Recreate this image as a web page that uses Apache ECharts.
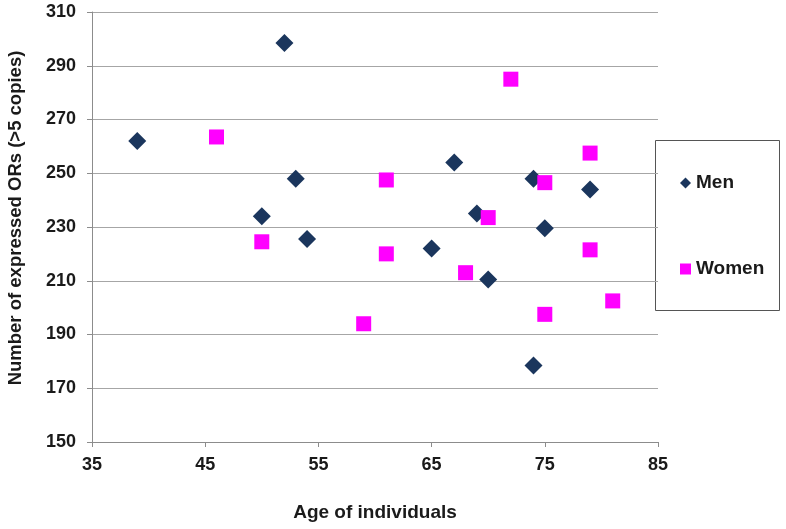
<!DOCTYPE html>
<html>
<head>
<meta charset="utf-8">
<script src="https://cdn.jsdelivr.net/npm/echarts@6/dist/echarts.min.js"></script>
<style>
html,body{margin:0;padding:0;background:#fff;}
#chart{width:786px;height:529px;}
</style>
</head>
<body>
<div id="chart"></div>
<script>
const menAge = [39, 50, 52, 53, 54, 65, 67, 69, 70, 74, 74, 75, 79];
const menORs = [262, 234, 298.5, 248, 225.5, 222, 254, 235, 210.5, 248, 178.5, 229.5, 244];
const womenAge = [46, 50, 59, 61, 61, 68, 70, 72, 75, 75, 79, 79, 81];
const womenORs = [263.5, 224.5, 194, 247.5, 220, 213, 233.5, 285, 246.5, 197.5, 257.5, 221.5, 202.5];
const seriesNames = ['Men', 'Women'];
const xTitle = 'Age of individuals';
const yTitle = 'Number of expressed ORs (>5 copies)';

const zip = (a, b) => a.map((v, i) => [v, b[i]]);
const font = '"Liberation Sans", Arial, sans-serif';

const chart = echarts.init(document.getElementById('chart'));
chart.setOption({
  animation: false,
  backgroundColor: '#ffffff',
  grid: { left: 92, right: 128, top: 12, bottom: 87, containLabel: false, outerBoundsMode: 'none' },
  xAxis: {
    type: 'value', min: 35, max: 85, interval: 10,
    name: xTitle, nameLocation: 'middle', nameGap: 61,
    nameTextStyle: { fontFamily: font, fontWeight: 'bold', fontSize: 19, color: '#1a1a1a' },
    axisLine: { show: true, lineStyle: { color: '#8c8c8c', width: 1 } },
    axisTick: { show: true, length: 5, lineStyle: { color: '#8c8c8c' } },
    axisLabel: { fontFamily: font, fontWeight: 'bold', fontSize: 18, color: '#1a1a1a', margin: 14 },
    splitLine: { show: false }
  },
  yAxis: {
    type: 'value', min: 150, max: 310, interval: 20,
    name: yTitle, nameLocation: 'middle', nameGap: 67,
    nameTextStyle: { fontFamily: font, fontWeight: 'bold', fontSize: 18.5, color: '#1a1a1a', padding: [0, 0, 0, 18] },
    axisLine: { show: true, lineStyle: { color: '#8c8c8c', width: 1 } },
    axisTick: { show: true, length: 5, lineStyle: { color: '#8c8c8c' } },
    axisLabel: { fontFamily: font, fontWeight: 'bold', fontSize: 18, color: '#1a1a1a', margin: 16 },
    splitLine: { show: true, lineStyle: { color: '#a6a6a6', width: 1 } }
  },
  legend: {
    orient: 'vertical', left: 675, top: 168,
    itemWidth: 11, itemHeight: 11, itemGap: 66,
    textStyle: { fontFamily: font, fontWeight: 'bold', fontSize: 19, color: '#1a1a1a', lineHeight: 20 },
    data: [{ name: seriesNames[0], icon: 'diamond' }, { name: seriesNames[1], icon: 'rect' }]
  },
  graphic: [{
    type: 'rect',
    shape: { x: 655.5, y: 140.5, width: 124, height: 170 },
    style: { fill: 'none', stroke: '#555555', lineWidth: 1 },
    z: 0
  }],
  series: [
    {
      name: seriesNames[0], type: 'scatter', symbol: 'diamond', symbolSize: [18, 18],
      itemStyle: { color: '#1b365d', opacity: 1 },
      data: zip(menAge, menORs)
    },
    {
      name: seriesNames[1], type: 'scatter', symbol: 'rect', symbolSize: [15, 15],
      itemStyle: { color: '#ff00ff', opacity: 1 },
      data: zip(womenAge, womenORs)
    }
  ]
});
</script>
</body>
</html>
